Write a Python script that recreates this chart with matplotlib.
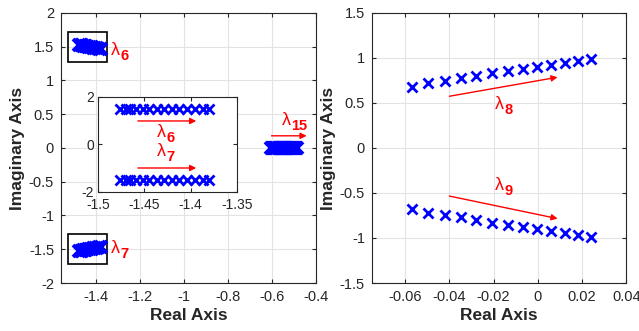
import numpy as np
import matplotlib.pyplot as plt
from matplotlib.patches import Rectangle

plt.rcParams['font.family'] = ['Liberation Sans', 'DejaVu Sans']

# lambda 6 / 7 (pareja compleja)
re_67 = [-1.4763, -1.4698, -1.4655, -1.4590, -1.4518, -1.4446, -1.4367,
         -1.4288, -1.4205, -1.4123, -1.4036, -1.3953, -1.3870, -1.3800]
im_6 = [1.53, 1.525, 1.52, 1.515, 1.51, 1.505, 1.50,
        1.495, 1.49, 1.485, 1.48, 1.475, 1.47, 1.465]
im_7 = [-v for v in im_6]

# lambda 15 (real)
re_15 = [-0.605, -0.600, -0.595, -0.590, -0.585, -0.580, -0.575, -0.570,
         -0.565, -0.560, -0.555, -0.550, -0.545, -0.540, -0.535, -0.530,
         -0.525, -0.520, -0.515, -0.510, -0.505, -0.500, -0.495, -0.490, -0.486]
im_15 = [0.0] * len(re_15)

# lambda 8 / 9
re_89 = [-0.0567, -0.0496, -0.0421, -0.0349, -0.0278, -0.0206, -0.0135,
         -0.0069, -0.0003, 0.0060, 0.0125, 0.0180, 0.0242]
im_8 = [0.673, 0.717, 0.743, 0.772, 0.802, 0.828, 0.854,
        0.876, 0.902, 0.924, 0.946, 0.968, 0.987]
im_9 = [-v for v in im_8]

tick_col = '#262626'
red = '#ff0000'
mk = dict(marker='x', color='blue', linestyle='none', markersize=6.5, markeredgewidth=2)
mk_big = dict(marker='x', color='blue', linestyle='none', markersize=8, markeredgewidth=2.8)
arr = dict(arrowstyle='-|>', color=red, lw=1, mutation_scale=9)


def lam(ax, x, y, n, ha='left'):
    # lambda normal + subindice en negrita, como en MATLAB
    t = ax.text(x, y, 'λ', color=red, fontsize=13, ha=ha, va='center')
    ax.annotate(n, xy=(1, 0), xycoords=t, xytext=(0.5, -3), textcoords='offset points',
                color=red, fontsize=10.5, fontweight='bold', ha='left', va='bottom')


def estilo(ax):
    ax.grid(True, color='#e3e3e3', linewidth=0.8)
    ax.set_axisbelow(True)
    ax.tick_params(direction='in', top=True, right=True, length=3,
                   labelsize=10.5, colors=tick_col, pad=5)
    for s in ax.spines.values():
        s.set_color(tick_col)
        s.set_linewidth(0.8)
    ax.set_xlabel('Real Axis', fontsize=12.5, fontweight='bold', color=tick_col, labelpad=3)
    ax.set_ylabel('Imaginary Axis', fontsize=12.5, fontweight='bold', color=tick_col, labelpad=3)


fig = plt.figure(figsize=(6.39, 3.31), dpi=100)
ax1 = fig.add_axes([0.0955, 0.145, 0.399, 0.816])
ax2 = fig.add_axes([0.582, 0.145, 0.398, 0.816])

# ---- panel izquierdo
ax1.plot(re_67, im_6, **mk_big)
ax1.plot(re_67, im_7, **mk_big)
ax1.plot(re_15, im_15, **mk_big)
ax1.add_patch(Rectangle((-1.527, 1.27), 0.177, 0.45, fill=False, ec='black', lw=1.2))
ax1.add_patch(Rectangle((-1.527, -1.72), 0.177, 0.45, fill=False, ec='black', lw=1.2))
lam(ax1, -1.335, 1.45, '6')
lam(ax1, -1.335, -1.49, '7')
ax1.annotate('', xy=(-0.43, 0.18), xytext=(-0.615, 0.18), arrowprops=arr)
lam(ax1, -0.555, 0.41, '15')
ax1.set_xlim(-1.56, -0.4)
ax1.set_ylim(-2, 2)
ax1.set_xticks([-1.4, -1.2, -1, -0.8, -0.6, -0.4])
ax1.set_xticklabels(['-1.4', '-1.2', '-1', '-0.8', '-0.6', '-0.4'])
ax1.set_yticks(np.arange(-2, 2.01, 0.5))
ax1.set_yticklabels(['-2', '-1.5', '-1', '-0.5', '0', '0.5', '1', '1.5', '2'])
estilo(ax1)

# ---- inset
ins = fig.add_axes([0.1534, 0.42, 0.2175, 0.287])
ins.plot(re_67, [1.5] * len(re_67), **mk)
ins.plot(re_67, [-1.5] * len(re_67), **mk)
ins.annotate('', xy=(-1.391, 0.99), xytext=(-1.46, 0.99), arrowprops=arr)
ins.annotate('', xy=(-1.391, -0.99), xytext=(-1.46, -0.99), arrowprops=arr)
lam(ins, -1.437, 0.5, '6')
lam(ins, -1.437, -0.3, '7')
ins.set_xlim(-1.5, -1.35)
ins.set_ylim(-2, 2)
ins.set_xticks([-1.5, -1.45, -1.4, -1.35])
ins.set_xticklabels(['-1.5', '-1.45', '-1.4', '-1.35'])
ins.set_yticks([-2, 0, 2])
ins.set_yticklabels(['-2', '0', '2'])
ins.tick_params(direction='in', top=True, right=True, length=3,
                labelsize=10, colors=tick_col, pad=3)
ins.tick_params(axis='x', pad=4)
for s in ins.spines.values():
    s.set_color(tick_col)
    s.set_linewidth(0.8)

# ---- panel derecho
ax2.plot(re_89, im_8, **mk)
ax2.plot(re_89, im_9, **mk)
ax2.annotate('', xy=(0.0102, 0.791), xytext=(-0.0412, 0.569), arrowprops=arr)
ax2.annotate('', xy=(0.0102, -0.791), xytext=(-0.0412, -0.528), arrowprops=arr)
lam(ax2, -0.0195, 0.48, '8')
lam(ax2, -0.0195, -0.42, '9')
ax2.set_xlim(-0.075, 0.04)
ax2.set_ylim(-1.5, 1.5)
ax2.set_xticks([-0.06, -0.04, -0.02, 0, 0.02, 0.04])
ax2.set_xticklabels(['-0.06', '-0.04', '-0.02', '0', '0.02', '0.04'])
ax2.set_yticks(np.arange(-1.5, 1.51, 0.5))
ax2.set_yticklabels(['-1.5', '-1', '-0.5', '0', '0.5', '1', '1.5'])
estilo(ax2)

fig.savefig('out.png', dpi=100)
plt.close(fig)
